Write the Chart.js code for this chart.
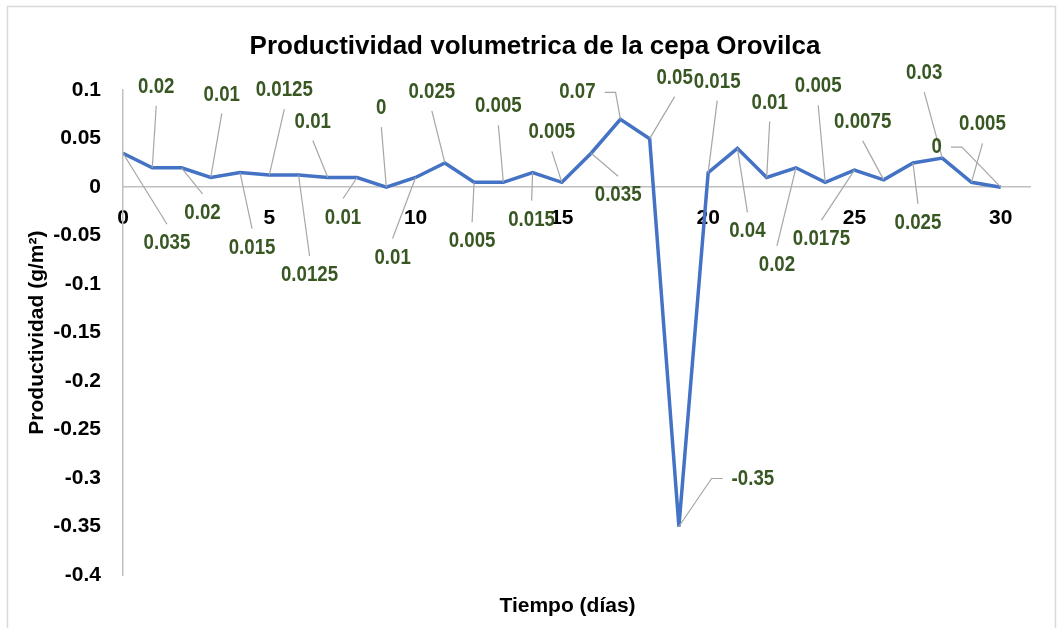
<!DOCTYPE html>
<html>
<head>
<meta charset="utf-8">
<script src="https://cdn.jsdelivr.net/npm/chart.js@4.4.1/dist/chart.umd.min.js"></script>
<style>
  body { margin: 0; background: #fff; }
</style>
</head>
<body>
<canvas id="prodChart" width="1061" height="628"></canvas>
<script>
const FONT = '"Liberation Sans", Arial, sans-serif';

// data
const dias = [0, 1, 2, 3, 4, 5, 6, 7, 8, 9, 10, 11, 12, 13, 14, 15, 16, 17, 18, 19, 20, 21, 22, 23, 24, 25, 26, 27, 28, 29, 30];
const productividad = [0.035, 0.02, 0.02, 0.01, 0.015, 0.0125, 0.0125, 0.01, 0.01, 0, 0.01, 0.025, 0.005, 0.005, 0.015, 0.005,
  0.035, 0.07, 0.05, -0.35, 0.015, 0.04, 0.01, 0.02, 0.005, 0.0175, 0.0075, 0.025, 0.03, 0.005, 0];
const xTicks = [0, 5, 10, 15, 20, 25, 30];
const yTicks = [0.1, 0.05, 0, -0.05, -0.1, -0.15, -0.2, -0.25, -0.3, -0.35, -0.4];

// where each data label sits relative to its point (px), like the moved labels in the original
const labelOffsets = [[44, 90], [4, -81], [21, 45], [11, -83], [12, 75], [15, -85], [11, 100], [-15, -56], [-14, 40], [-5, -79],
  [-23, 80], [-13, -71], [-2, 59], [-5, -76], [-1, 47], [-10, -50], [27, 42], [-43, -27], [25, -61], [74, -48],
  [9, -91], [10, 83], [3, -75], [-19, 97], [-7, -96], [-33, 69], [-21, -58], [5, 60], [-18, -85], [11, -58], [-64, -40]];

const points = dias.map((d, i) => ({ x: d, y: productividad[i] }));

const frame = {
  id: 'frame',
  beforeDraw(chart) {
    const c = chart.ctx;
    c.save();
    c.strokeStyle = '#d9d9d9';
    c.lineWidth = 1.5;
    c.strokeRect(7.5, 6.5, 1048, 640);
    c.restore();
  }
};

// labels use a narrow face in the original; squeeze the text a bit
const SQUEEZE = 0.85;

const dataLabels = {
  id: 'dataLabels',
  afterDatasetsDraw(chart) {
    const c = chart.ctx;
    const meta = chart.getDatasetMeta(0);
    c.save();
    c.font = 'bold 22px ' + FONT;
    c.textAlign = 'center';
    c.textBaseline = 'middle';
    meta.data.forEach((pt, i) => {
      const txt = String(productividad[i]);
      const [dx, dy] = labelOffsets[i];
      const cx = pt.x + dx, cy = pt.y + dy;
      const w = c.measureText(txt).width * SQUEEZE;
      c.strokeStyle = '#a6a6a6';
      c.lineWidth = 1.2;
      c.beginPath();
      if (Math.abs(dy) < 50 && Math.abs(dx) > w / 2 + 12) {
        // label off to the side: short horizontal stub then to the point
        const side = dx > 0 ? 1 : -1;
        const sx = cx - side * (w / 2 + 9);
        c.moveTo(sx, cy);
        c.lineTo(sx - side * 11, cy);
        c.lineTo(pt.x, pt.y);
      } else {
        const ey = dy < 0 ? cy + 19 : cy - 19;
        c.moveTo(cx, ey);
        c.lineTo(pt.x, pt.y);
      }
      c.stroke();
      c.save();
      c.translate(cx, cy);
      c.scale(SQUEEZE, 1);
      c.fillStyle = '#385723';
      c.fillText(txt, 0, 0);
      c.restore();
    });
    c.restore();
  }
};

const xTitle = {
  id: 'xTitle',
  afterDraw(chart) {
    const c = chart.ctx;
    const a = chart.chartArea;
    c.save();
    c.font = 'bold 21px ' + FONT;
    c.fillStyle = '#000';
    c.textAlign = 'center';
    c.textBaseline = 'middle';
    c.fillText('Tiempo (días)', (a.left + a.right) / 2 - 9, 606);
    c.restore();
  }
};

new Chart(document.getElementById('prodChart'), {
  type: 'scatter',
  data: {
    datasets: [{
      label: 'Productividad',
      data: points,
      showLine: true,
      borderColor: '#4472C4',
      backgroundColor: '#4472C4',
      borderWidth: 3.5,
      pointRadius: 0,
      tension: 0
    }]
  },
  options: {
    responsive: false,
    animation: false,
    layout: { padding: { top: 10, left: 40, right: 31, bottom: 53 } },
    plugins: {
      legend: { display: false },
      tooltip: { enabled: false },
      title: {
        display: true,
        text: 'Productividad volumetrica de la cepa Orovilca',
        color: '#000',
        font: { family: FONT, size: 26, weight: 'bold' },
        padding: { top: 21, bottom: 28 }
      }
    },
    scales: {
      x: {
        type: 'linear',
        position: { y: 0 },
        min: 0,
        max: 31,
        afterBuildTicks: s => { s.ticks = xTicks.map(v => ({ value: v })); },
        grid: { display: false, drawTicks: false },
        border: { color: '#bfbfbf', width: 1.5 },
        ticks: { color: '#000', font: { family: FONT, size: 21, weight: 'bold' }, padding: 18, maxRotation: 0 }
      },
      y: {
        min: -0.4,
        max: 0.1,
        afterBuildTicks: s => { s.ticks = yTicks.map(v => ({ value: v })); },
        afterFit: s => { s.width = 83; },
        grid: { display: false, drawTicks: false },
        border: { color: '#bfbfbf', width: 1.5 },
        ticks: {
          color: '#000',
          font: { family: FONT, size: 21, weight: 'bold' },
          padding: 22,
          callback: v => String(+v.toFixed(2))
        },
        title: {
          display: true,
          text: 'Productividad (g/m²)',
          color: '#000',
          font: { family: FONT, size: 21, weight: 'bold' },
          padding: { top: -15 }
        }
      }
    }
  },
  plugins: [frame, dataLabels, xTitle]
});
</script>
</body>
</html>
